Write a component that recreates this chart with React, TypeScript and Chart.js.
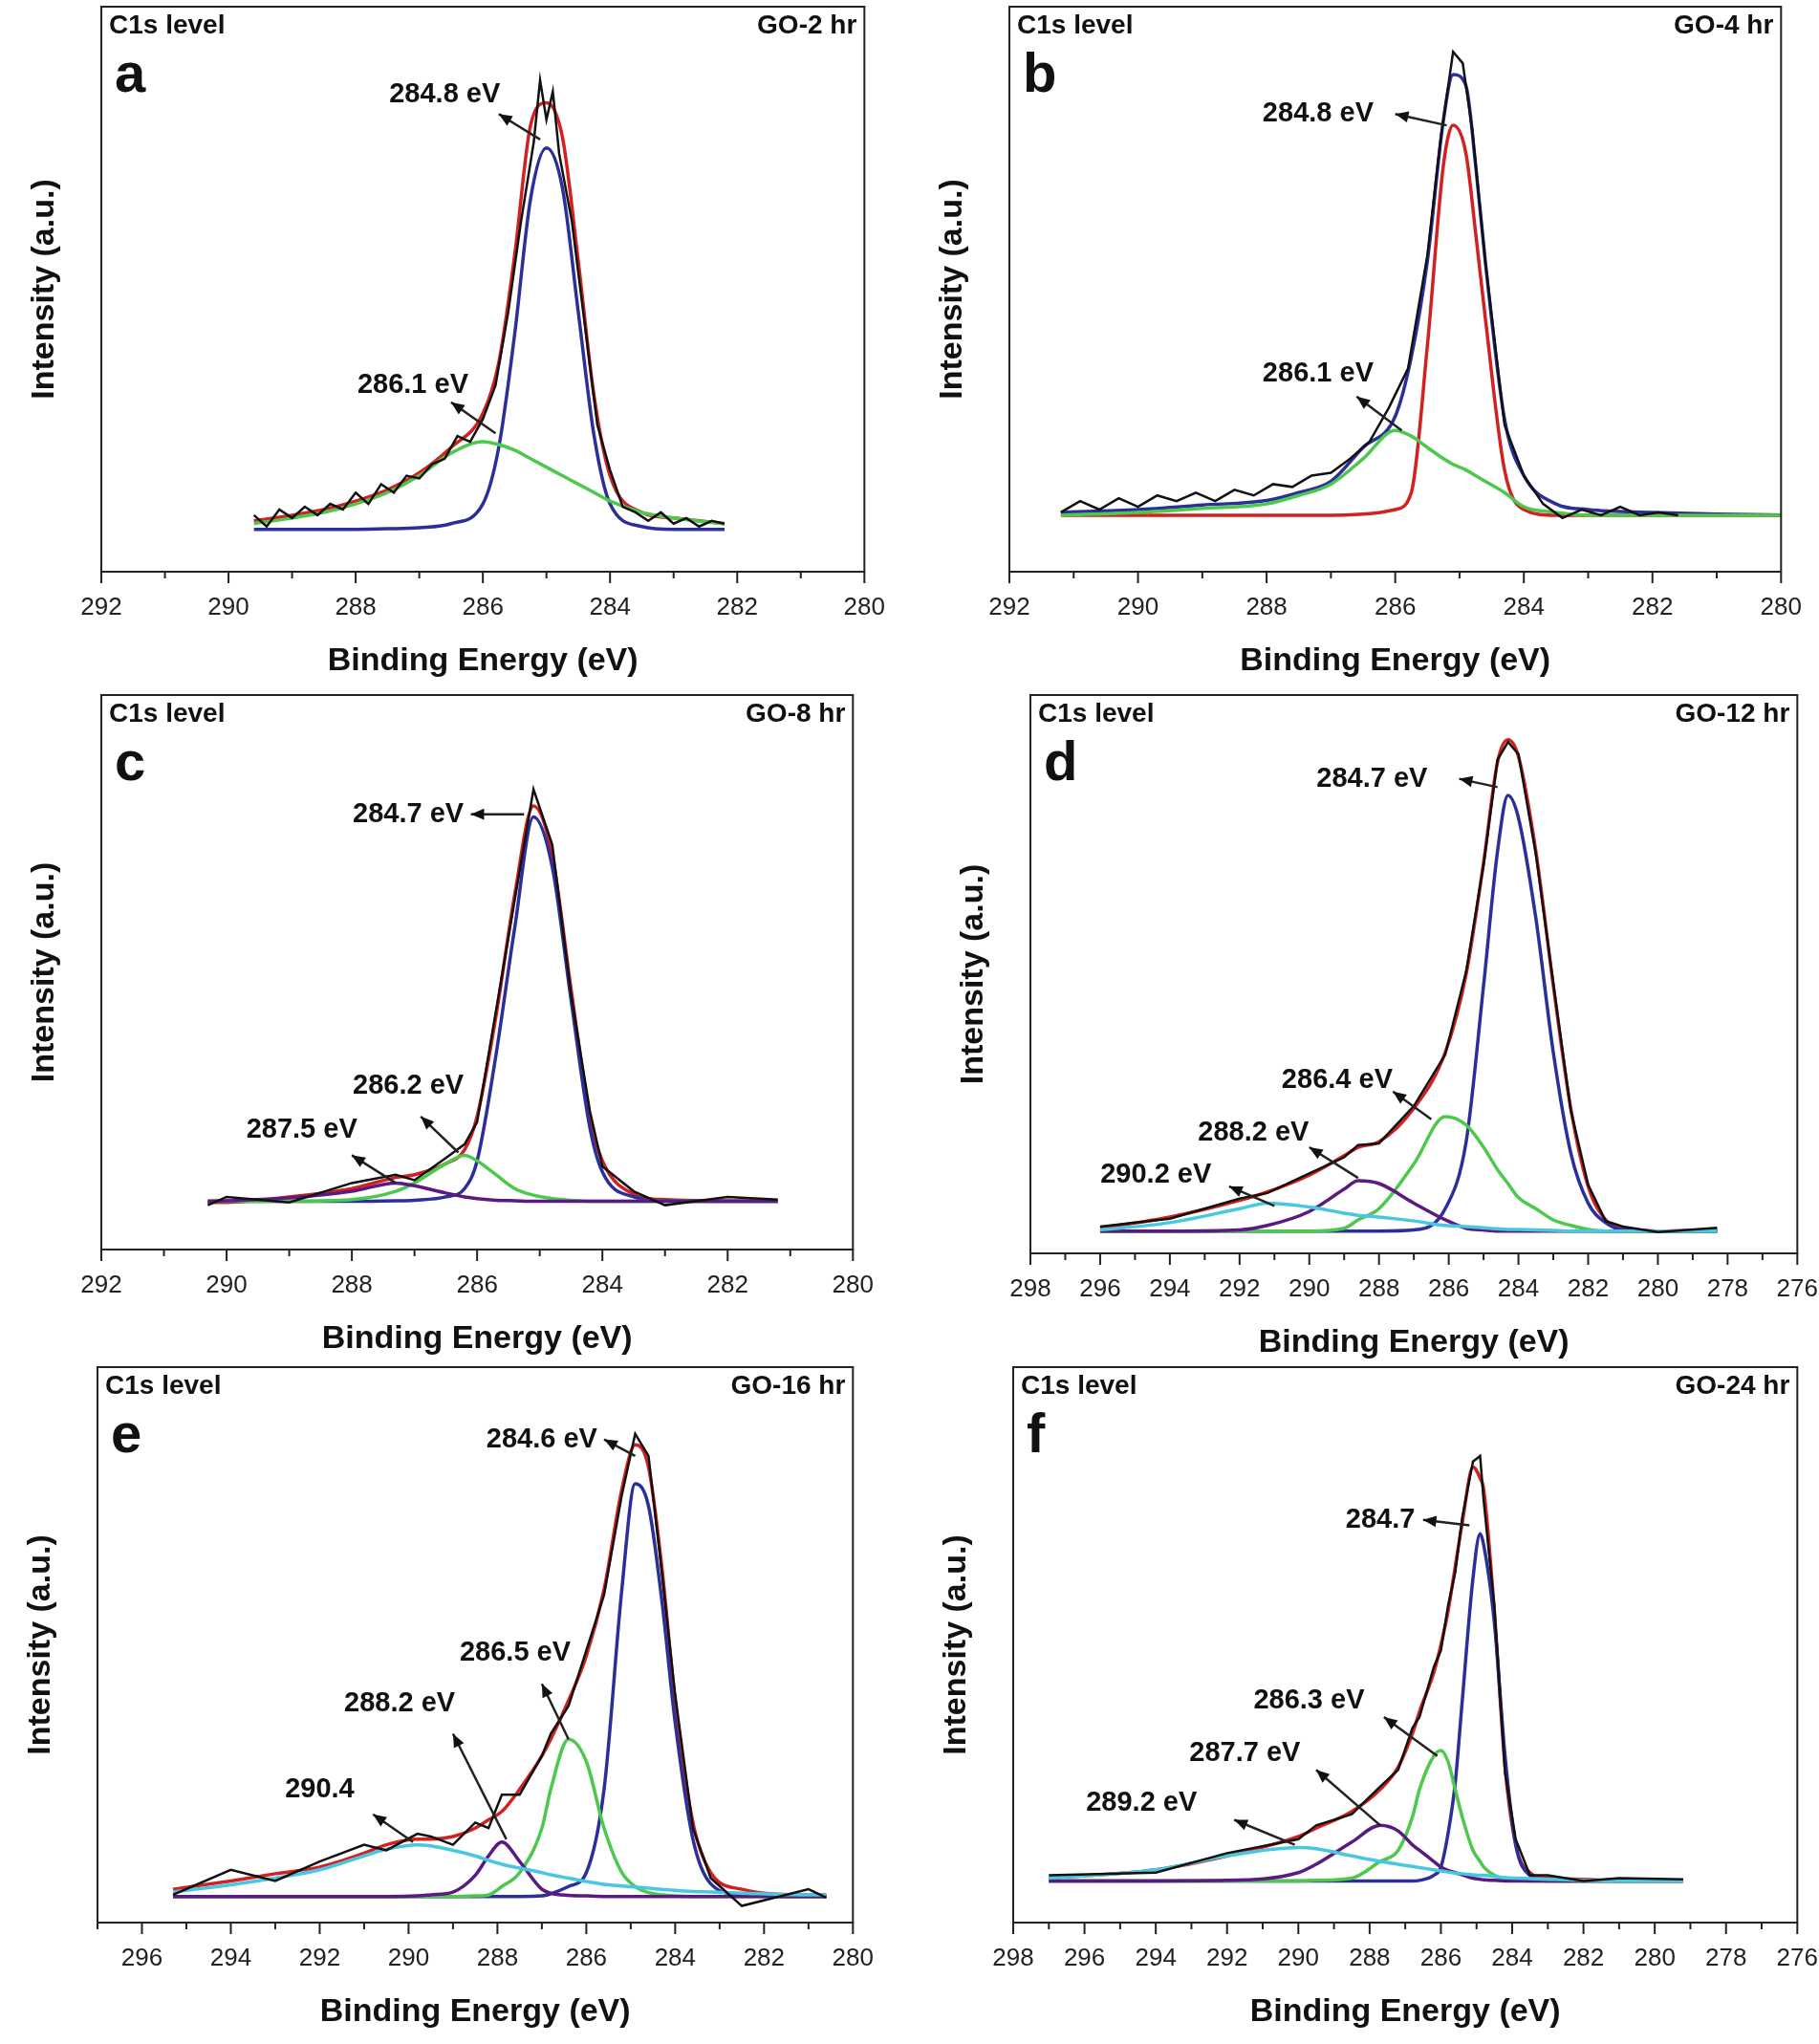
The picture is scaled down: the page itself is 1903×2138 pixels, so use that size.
import React, { useEffect, useRef } from "react";
import { Chart, registerables } from "chart.js";
Chart.register(...registerables);

// ---------- Panel a ----------
const aX = [289.6, 289, 288.5, 288, 287.5, 287, 286.5, 286, 285.75, 285.5, 285.25, 285, 284.75, 284.5, 284.25, 284, 283.5, 283, 282.2];
const aBlue = [7.5, 7.5, 7.5, 7.5, 7.6, 7.8, 8.5, 12, 22, 42, 66, 75, 68, 46, 24, 12, 8, 7.5, 7.5];
const aGreen = [8.5, 9.5, 10.5, 12, 14, 17, 21, 23, 22.5, 21.5, 20, 18.5, 17, 15.5, 14, 12.5, 10.5, 9.5, 8.5];
const aRed = [9, 10, 11, 12.5, 14.5, 17.5, 22, 28, 37, 56, 79, 83, 77, 55, 31, 17, 10.5, 9.5, 8.5];
const aBlackX = [289.6, 289.4, 289.2, 289, 288.8, 288.6, 288.4, 288.2, 288, 287.8, 287.6, 287.4, 287.2, 287, 286.8, 286.6, 286.4, 286.2, 286, 285.8, 285.6, 285.4, 285.2, 285.1, 285, 284.9, 284.8, 284.6, 284.4, 284.2, 284, 283.8, 283.6, 283.4, 283.2, 283, 282.8, 282.6, 282.4, 282.2];
const aBlack = [10, 8, 11, 9.5, 11.5, 10, 12, 11, 14, 12, 15.5, 14, 17, 16.5, 19, 20, 24, 23, 27, 33, 46, 62, 76, 87, 80, 85, 74, 62, 44, 26, 18, 11.5, 10.5, 9, 10.5, 8.5, 9.5, 8, 9, 8.5];

// ---------- Panel b ----------
const bX = [291.2, 290, 289, 288, 287.5, 287, 286.5, 286, 285.75, 285.5, 285.25, 285.1, 284.9, 284.75, 284.6, 284.3, 284, 283.5, 283, 282, 281, 279.8];
const bBlue = [10.5, 11, 11.8, 12.6, 14, 16, 22, 27.5, 38, 55, 80, 88, 86, 72, 55, 27, 17, 12, 11, 10.5, 10.2, 10];
const bRed = [10, 10, 10, 10, 10, 10, 10.2, 11, 14, 40, 72, 79, 74, 60, 45, 18, 11, 10, 10, 10, 10, 10];
const bGreen = [10, 10.5, 11.2, 12, 13.5, 15.5, 20, 25, 24, 22, 20, 19, 18, 17, 16, 14, 11.5, 10.5, 10, 10, 10, 10];
const bBlackX = [291.2, 290.9, 290.6, 290.3, 290, 289.7, 289.4, 289.1, 288.8, 288.5, 288.2, 287.9, 287.6, 287.3, 287, 286.7, 286.4, 286.1, 285.8, 285.5, 285.3, 285.1, 284.95, 284.8, 284.6, 284.3, 284, 283.7, 283.4, 283.1, 282.8, 282.5, 282.2, 281.9, 281.6];
const bBlack = [10.5, 12.5, 11, 13, 11.5, 13.5, 12.5, 14, 12.5, 14.5, 13.5, 15.5, 15, 17, 17.5, 20, 23, 29, 36, 56, 76, 92, 90, 78, 55, 26, 17, 12, 9.5, 11, 10, 11.5, 10, 10.5, 10];

// ---------- Panel c ----------
const cX = [290.3, 290, 289, 288, 287.3, 287, 286.5, 286.2, 286, 285.7, 285.4, 285.1, 284.8, 284.5, 284.2, 284, 283.5, 283, 282, 281.2];
const cRed = [8.5, 8.5, 9.5, 11, 13, 13.5, 15.5, 18, 24, 42, 64, 80, 71, 47, 24, 16, 10, 9, 8.8, 8.8];
const cBlue = [8.7, 8.7, 8.7, 8.7, 8.8, 8.9, 9.5, 11, 16, 35, 58, 78, 69, 45, 22, 14, 9.5, 8.8, 8.7, 8.7];
const cGreen = [8.7, 8.7, 8.7, 9, 10.5, 12, 15.5, 17, 16, 13.5, 11, 9.8, 9.2, 8.9, 8.7, 8.7, 8.7, 8.7, 8.7, 8.7];
const cPurple = [8.7, 8.8, 9.3, 10.5, 12, 11.5, 10.2, 9.5, 9.2, 8.9, 8.8, 8.7, 8.7, 8.7, 8.7, 8.7, 8.7, 8.7, 8.7, 8.7];
const cBlack = [8, 9.5, 8.5, 12, 13.5, 12.5, 16.5, 19, 23, 43, 63, 83, 73, 46, 25, 15, 10.5, 8, 9.5, 9];

// ---------- Panel d ----------
const dX = [296, 294, 292, 291.2, 290, 289, 288.6, 288, 287, 286.1, 285.5, 285, 284.6, 284.3, 284, 283.5, 283, 282.5, 282, 281.5, 281, 280, 278.3];
const dRed = [4.5, 6.5, 9.5, 11, 14, 17.5, 19, 20, 26, 36, 50, 70, 88, 92, 89, 72, 48, 26, 12, 6, 4.5, 4, 4.2];
const dBlue = [4, 4, 4, 4, 4, 4, 4, 4, 4.2, 8, 20, 48, 72, 82, 78, 60, 36, 18, 9, 5.5, 4.2, 4, 4];
const dGreen = [4, 4, 4, 4, 4, 4.5, 6, 8, 16, 24.5, 23, 19, 15, 12.5, 10, 8, 6, 5, 4.3, 4, 4, 4, 4];
const dPurple = [4, 4, 4.2, 5, 7.5, 11.5, 13, 12.5, 9, 6, 4.5, 4.2, 4, 4, 4, 4, 4, 4, 4, 4, 4, 4, 4];
const dCyan = [4.2, 5.5, 8, 9, 8.3, 7.2, 6.8, 6.5, 5.8, 5, 4.8, 4.6, 4.4, 4.3, 4.3, 4.2, 4.1, 4, 4, 4, 4, 4, 4];
const dBlack = [4.8, 6.2, 9.8, 10.8, 14.3, 17.2, 19.4, 19.7, 26.4, 35.6, 50.5, 69.6, 88.4, 91.6, 89.4, 71.5, 48.4, 25.7, 12.3, 5.8, 4.8, 3.8, 4.6];

// ---------- Panel e ----------
const eX = [295.3, 294, 293, 292, 291, 290.5, 289.8, 289.5, 289, 288.5, 288.2, 287.9, 287.5, 287, 286.8, 286.4, 286, 285.6, 285.2, 284.9, 284.6, 284.3, 284, 283.6, 283.2, 282.5, 281, 280.6];
const eRed = [6, 7.5, 8.8, 10, 12.5, 14, 15, 15, 15.5, 17, 18.5, 20, 24, 30, 33, 40, 48, 60, 78, 86, 82, 64, 40, 18, 9, 6, 5, 5];
const eBlue = [4.7, 4.7, 4.7, 4.7, 4.7, 4.7, 4.7, 4.7, 4.7, 4.7, 4.7, 4.7, 4.7, 4.8, 5.2, 6.5, 9, 24, 60, 79, 75, 58, 36, 15, 7, 5, 4.7, 4.7];
const eGreen = [4.7, 4.7, 4.7, 4.7, 4.7, 4.7, 4.7, 4.7, 4.7, 4.8, 5, 6.5, 9, 17, 24, 33, 29, 17, 9, 6.5, 5.4, 5, 4.8, 4.7, 4.7, 4.7, 4.7, 4.7];
const ePurple = [4.7, 4.7, 4.7, 4.7, 4.7, 4.7, 4.8, 5, 5.5, 8.5, 12, 14.5, 11, 6, 5.3, 4.9, 4.8, 4.7, 4.7, 4.7, 4.7, 4.7, 4.7, 4.7, 4.7, 4.7, 4.7, 4.7];
const eCyan = [5.5, 6.8, 8, 9.5, 12, 13.2, 14, 13.8, 13, 12, 11.2, 10.5, 9.8, 9, 8.6, 8, 7.4, 6.9, 6.6, 6.4, 6.2, 6, 5.8, 5.6, 5.5, 5.3, 5, 5];
const eBlack = [5, 9.5, 7.5, 11, 14, 13, 16, 15.5, 14, 18, 17, 23, 23, 30, 34, 39, 49, 59, 77, 88, 84, 63, 41, 17, 8, 3, 6, 4.5];

// ---------- Panel f ----------
const fX = [297, 294, 292, 290, 289.5, 288.5, 287.7, 287.2, 286.8, 286.6, 286.2, 286, 285.8, 285.6, 285.4, 285.1, 284.9, 284.8, 284.5, 284.2, 283.9, 283.5, 283, 282, 281, 279.2];
const fRed = [8, 9.5, 12, 15.5, 17, 20, 24, 28, 34, 38, 45, 50, 56, 64, 72, 82, 80, 78, 56, 28, 14, 9, 8, 7.8, 7.5, 7.5];
const fBlue = [7.5, 7.5, 7.5, 7.5, 7.5, 7.5, 7.5, 7.5, 7.5, 7.6, 8.5, 10, 16, 25, 40, 62, 70, 68, 54, 30, 14, 8.5, 7.5, 7.5, 7.5, 7.5];
const fGreen = [7.5, 7.5, 7.5, 7.5, 7.6, 8, 11, 13, 19, 24, 30, 31, 29, 24, 19, 13, 11, 10, 8.5, 7.8, 7.6, 7.5, 7.5, 7.5, 7.5, 7.5];
const fPurple = [7.5, 7.5, 7.6, 9, 10.5, 14.5, 17.5, 16.5, 14, 13, 11, 10, 9.4, 9, 8.6, 8, 7.8, 7.7, 7.6, 7.5, 7.5, 7.5, 7.5, 7.5, 7.5, 7.5];
const fCyan = [8, 9.5, 12, 13.5, 13.3, 12, 11, 10.5, 10.1, 9.9, 9.5, 9.3, 9.1, 8.9, 8.8, 8.6, 8.5, 8.5, 8.3, 8.1, 8, 7.9, 7.8, 7.6, 7.5, 7.5];
const fBlack = [8.5, 9, 12.5, 15, 17.5, 19.5, 24.5, 27.5, 35, 37, 46, 49, 57, 63, 73, 83, 84, 76, 57, 27, 15, 8.5, 8.5, 7.5, 8, 7.8];

const RED = "#d32020";
const BLUE = "#2b2f9a";
const GREEN = "#4cc94c";
const PURPLE = "#5a1a82";
const CYAN = "#48c8e0";
const FONT = "'Liberation Sans', Arial, sans-serif";

type Ann = { t: string; x: number; y: number; x0: number; y0: number; x1: number; y1: number };
type Panel = {
  left: number; top: number; w: number; h: number;
  min: number; max: number; tag: string; letter: string;
  series: { x: number[]; y: number[]; c: string; black?: boolean }[];
  anns: Ann[];
};

const panels: Panel[] = [
  { left: 106, top: 7, w: 800, h: 591, min: 280, max: 292, tag: "GO-2 hr", letter: "a",
    series: [
      { x: aBlackX, y: aBlack, c: "#111", black: true },
      { x: aX, y: aGreen, c: GREEN }, { x: aX, y: aBlue, c: BLUE }, { x: aX, y: aRed, c: RED }],
    anns: [
      { t: "284.8 eV", x: 286.6, y: 84.5, x0: 285.1, y0: 76.5, x1: 285.75, y1: 81 },
      { t: "286.1 eV", x: 287.1, y: 33, x0: 285.8, y0: 24.5, x1: 286.5, y1: 30 }] },
  { left: 1056, top: 7, w: 809, h: 591, min: 280, max: 292, tag: "GO-4 hr", letter: "b",
    series: [
      { x: bBlackX, y: bBlack, c: "#111", black: true },
      { x: bX, y: bGreen, c: GREEN }, { x: bX, y: bRed, c: RED }, { x: bX, y: bBlue, c: BLUE }],
    anns: [
      { t: "284.8 eV", x: 287.2, y: 81, x0: 285.2, y0: 79, x1: 286, y1: 81 },
      { t: "286.1 eV", x: 287.2, y: 35, x0: 285.9, y0: 25, x1: 286.6, y1: 31 }] },
  { left: 106, top: 727, w: 788, h: 580, min: 280, max: 292, tag: "GO-8 hr", letter: "c",
    series: [
      { x: cX, y: cBlack, c: "#111", black: true },
      { x: cX, y: cPurple, c: PURPLE }, { x: cX, y: cGreen, c: GREEN }, { x: cX, y: cBlue, c: BLUE }, { x: cX, y: cRed, c: RED }],
    anns: [
      { t: "284.7 eV", x: 287.1, y: 78.5, x0: 285.25, y0: 78.5, x1: 286.1, y1: 78.5 },
      { t: "286.2 eV", x: 287.1, y: 29.5, x0: 286.3, y0: 17.5, x1: 286.9, y1: 24 },
      { t: "287.5 eV", x: 288.8, y: 21.5, x0: 287.3, y0: 12, x1: 288, y1: 17 }] },
  { left: 1078, top: 727, w: 804, h: 584, min: 276, max: 298, tag: "GO-12 hr", letter: "d",
    series: [
      { x: dX, y: dBlack, c: "#111", black: true },
      { x: dX, y: dCyan, c: CYAN }, { x: dX, y: dPurple, c: PURPLE }, { x: dX, y: dGreen, c: GREEN }, { x: dX, y: dBlue, c: BLUE }, { x: dX, y: dRed, c: RED }],
    anns: [
      { t: "284.7 eV", x: 288.2, y: 85, x0: 284.6, y0: 83.5, x1: 285.7, y1: 85 },
      { t: "286.4 eV", x: 289.2, y: 31, x0: 286.5, y0: 24, x1: 287.6, y1: 29 },
      { t: "288.2 eV", x: 291.6, y: 21.5, x0: 288.6, y0: 13.5, x1: 290, y1: 19 },
      { t: "290.2 eV", x: 294.4, y: 14, x0: 291, y0: 8.5, x1: 292.3, y1: 12 }] },
  { left: 102, top: 1430, w: 792, h: 581, min: 280, max: 297, tag: "GO-16 hr", letter: "e",
    series: [
      { x: eX, y: eBlack, c: "#111", black: true },
      { x: eX, y: eCyan, c: CYAN }, { x: eX, y: ePurple, c: PURPLE }, { x: eX, y: eGreen, c: GREEN }, { x: eX, y: eBlue, c: BLUE }, { x: eX, y: eRed, c: RED }],
    anns: [
      { t: "284.6 eV", x: 287.0, y: 87, x0: 284.9, y0: 84, x1: 285.6, y1: 87 },
      { t: "286.5 eV", x: 287.6, y: 48.5, x0: 286.4, y0: 33, x1: 287, y1: 43 },
      { t: "288.2 eV", x: 290.2, y: 39.5, x0: 287.8, y0: 15, x1: 289, y1: 34 },
      { t: "290.4", x: 292.0, y: 24, x0: 289.9, y0: 14.5, x1: 290.8, y1: 19.5 }] },
  { left: 1060, top: 1430, w: 822, h: 581, min: 276, max: 298, tag: "GO-24 hr", letter: "f",
    series: [
      { x: fX, y: fBlack, c: "#111", black: true },
      { x: fX, y: fCyan, c: CYAN }, { x: fX, y: fPurple, c: PURPLE }, { x: fX, y: fGreen, c: GREEN }, { x: fX, y: fBlue, c: BLUE }, { x: fX, y: fRed, c: RED }],
    anns: [
      { t: "284.7", x: 287.7, y: 72.5, x0: 285.2, y0: 71.5, x1: 286.5, y1: 72.5 },
      { t: "286.3 eV", x: 289.7, y: 40, x0: 286.1, y0: 30, x1: 287.6, y1: 37 },
      { t: "287.7 eV", x: 291.5, y: 30.5, x0: 287.7, y0: 17.5, x1: 289.5, y1: 27.5 },
      { t: "289.2 eV", x: 294.4, y: 21.5, x0: 290.1, y0: 14, x1: 291.8, y1: 18.5 }] },
];

const PADL = 80;
const PADB = 118;
const PADR = 34;

function PanelChart({ p }: { p: Panel }) {
  const ref = useRef<HTMLCanvasElement>(null);
  useEffect(() => {
    const deco = {
      id: "deco",
      afterDraw(chart: any) {
        const { ctx, chartArea: a, scales } = chart;
        const xs = scales.x, ys = scales.y;
        ctx.save();
        ctx.strokeStyle = "#222";
        ctx.lineWidth = 2;
        ctx.strokeRect(a.left, a.top, a.right - a.left, a.bottom - a.top);
        for (let v = p.min; v <= p.max; v++) {
          const px = xs.getPixelForValue(v);
          const len = v % 2 === 0 ? 12 : 7;
          ctx.beginPath();
          ctx.moveTo(px, a.bottom);
          ctx.lineTo(px, a.bottom + len);
          ctx.stroke();
        }
        ctx.fillStyle = "#111";
        ctx.font = `bold 28px ${FONT}`;
        ctx.textBaseline = "top";
        ctx.textAlign = "left";
        ctx.fillText("C1s level", a.left + 8, a.top + 6);
        ctx.textAlign = "right";
        ctx.fillText(p.tag, a.right - 8, a.top + 6);
        ctx.textAlign = "left";
        ctx.font = `bold 58px ${FONT}`;
        ctx.fillText(p.letter, a.left + 14, a.top + 44);
        ctx.font = `bold 29px ${FONT}`;
        ctx.textAlign = "center";
        ctx.textBaseline = "middle";
        for (const n of p.anns) {
          ctx.fillText(n.t, xs.getPixelForValue(n.x), ys.getPixelForValue(n.y));
          const x0 = xs.getPixelForValue(n.x0), y0 = ys.getPixelForValue(n.y0);
          const x1 = xs.getPixelForValue(n.x1), y1 = ys.getPixelForValue(n.y1);
          ctx.lineWidth = 2.5;
          ctx.beginPath();
          ctx.moveTo(x0, y0);
          ctx.lineTo(x1, y1);
          ctx.stroke();
          const ang = Math.atan2(y1 - y0, x1 - x0);
          ctx.beginPath();
          ctx.moveTo(x1, y1);
          ctx.lineTo(x1 - 15 * Math.cos(ang - 0.4), y1 - 15 * Math.sin(ang - 0.4));
          ctx.lineTo(x1 - 15 * Math.cos(ang + 0.4), y1 - 15 * Math.sin(ang + 0.4));
          ctx.closePath();
          ctx.fill();
        }
        ctx.restore();
      },
    };
    const chart = new Chart(ref.current!, {
      type: "line",
      data: {
        datasets: p.series.map((s) => ({
          data: s.x.map((x, i) => ({ x, y: s.y[i] })),
          borderColor: s.c,
          borderWidth: s.black ? 2.5 : 3.5,
          pointRadius: 0,
          tension: s.black ? 0 : 0.4,
          cubicInterpolationMode: s.black ? "default" : "monotone",
          fill: false,
        })),
      } as any,
      options: {
        animation: false,
        responsive: false,
        layout: { padding: { left: 0, top: 2, right: PADR, bottom: 0 } },
        plugins: { legend: { display: false }, tooltip: { enabled: false } },
        scales: {
          x: {
            type: "linear",
            reverse: true,
            min: p.min,
            max: p.max,
            grid: { display: false },
            border: { display: false },
            afterFit: (s: any) => { s.height = PADB; },
            ticks: {
              stepSize: 1,
              autoSkip: false,
              maxRotation: 0,
              padding: 14,
              color: "#222",
              font: { size: 26, family: FONT },
              callback: (v: any) => (Number(v) % 2 === 0 ? String(v) : ""),
            },
            title: {
              display: true,
              text: "Binding Energy (eV)",
              color: "#111",
              font: { size: 34, weight: "bold", family: FONT },
              padding: { top: 6 },
            },
          },
          y: {
            min: 0,
            max: 100,
            grid: { display: false },
            border: { display: false },
            ticks: { display: false },
            afterFit: (s: any) => { s.width = PADL; },
            title: {
              display: true,
              text: "Intensity (a.u.)",
              color: "#111",
              font: { size: 34, weight: "bold", family: FONT },
              padding: { top: 0, bottom: 0 },
            },
          },
        },
      } as any,
      plugins: [deco],
    });
    return () => chart.destroy();
  }, [p]);
  return (
    <canvas
      ref={ref}
      width={p.w + PADL + PADR}
      height={p.h + PADB + 2}
      style={{ position: "absolute", left: p.left - PADL, top: p.top - 2 }}
    />
  );
}

export default function App() {
  return (
    <div style={{ position: "absolute", left: 0, top: 0, width: 1903, height: 2138, background: "#fff" }}>
      {panels.map((p, i) => (
        <PanelChart key={i} p={p} />
      ))}
    </div>
  );
}
